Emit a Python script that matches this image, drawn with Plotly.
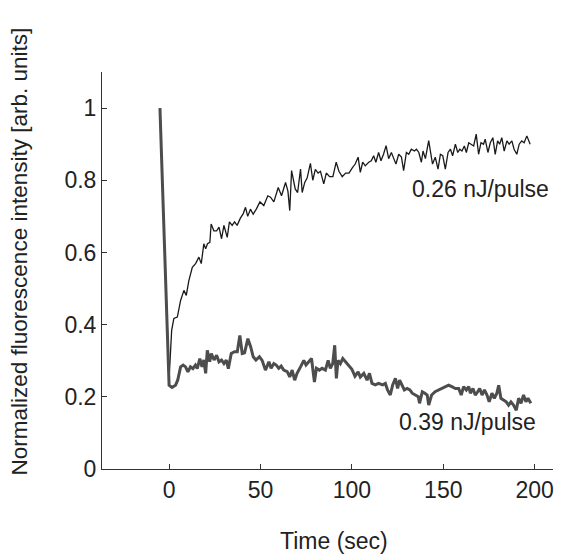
import plotly.graph_objects as go

# 0.26 nJ/pulse (thin black line): time (sec), normalized intensity
t_026 = [-5, 0, 1.4, 2.6, 4.5, 6.3, 8.1, 9.4, 10.8, 12.7, 14.5, 16.3, 17.6, 19, 20, 21, 22.3, 23, 24.5, 26,
         27.3, 28.7, 30, 31.8, 33, 34.5, 35.8, 37.2, 39, 40.5, 41.8, 43, 44.5, 46, 47.7, 49.7, 51.8, 54, 55.5, 57.3,
         59.7, 61.5, 63.7, 65, 66, 67, 69, 70.3, 71.9, 72.8, 74.2, 75.5, 77.3, 78.6, 80, 81.5, 82.8, 84.6, 86, 87.8,
         89.6, 91.4, 92.9, 94.7, 96.6, 98.4, 100.3, 101.8, 103.4, 104.6, 105.9, 107.3, 109.2, 110.6, 111.9, 113.1,
         114.6, 115.9, 117.3, 118.7, 120.1, 121.6, 122.9, 124.1, 125.6, 127.1, 128.3, 129.8, 131.1, 132.5, 134.2,
         135.3, 136.6, 138, 138.9, 140.2, 142, 142.9, 144.1, 145.6, 147.1, 148.4, 149.7, 151.1, 152.6, 153.9, 155.1,
         156.6, 157.9, 159, 160.2, 161.5, 162.6, 163.9, 165.3, 166.6, 168, 169.3, 170.6, 172, 172.9, 174.4, 175.7,
         177.1, 178.4, 179.7, 180.8, 182, 183.3, 184.8, 186, 187.5, 188.7, 190.2, 191.5, 192.9, 194.2, 195.7, 197.5]
v_026 = [1.0, 0.25, 0.384, 0.417, 0.421, 0.467, 0.495, 0.481, 0.522, 0.559, 0.569, 0.587, 0.569, 0.624, 0.61, 0.624,
         0.628, 0.679, 0.66, 0.66, 0.67, 0.638, 0.675, 0.642, 0.685, 0.675, 0.685, 0.675, 0.695, 0.707, 0.725, 0.70,
         0.72, 0.706, 0.72, 0.74, 0.73, 0.757, 0.753, 0.74, 0.78, 0.757, 0.794, 0.77, 0.716, 0.827, 0.776, 0.766,
         0.831, 0.766, 0.794, 0.806, 0.847, 0.8, 0.83, 0.82, 0.825, 0.79, 0.82, 0.81, 0.81, 0.85, 0.825, 0.81, 0.82,
         0.82, 0.835, 0.845, 0.864, 0.822, 0.85, 0.84, 0.85, 0.854, 0.868, 0.85, 0.877, 0.854, 0.872, 0.896, 0.86,
         0.877, 0.86, 0.845, 0.872, 0.864, 0.827, 0.877, 0.872, 0.886, 0.881, 0.886, 0.877, 0.85, 0.881, 0.86, 0.91,
         0.88, 0.845, 0.864, 0.831, 0.872, 0.868, 0.831, 0.877, 0.886, 0.868, 0.9, 0.877, 0.886, 0.881, 0.895, 0.877,
         0.904, 0.9, 0.895, 0.928, 0.872, 0.904, 0.9, 0.914, 0.877, 0.904, 0.918, 0.872, 0.909, 0.9, 0.918, 0.881,
         0.909, 0.9, 0.909, 0.886, 0.872, 0.9, 0.909, 0.904, 0.923, 0.9]

# 0.39 nJ/pulse (thick gray line)
t_039 = [-5, 0, 1.6, 3.5, 4.7, 6.3, 7.7, 9, 10.3, 11.7, 13, 14.4, 15.4, 16.8, 18, 19, 20, 20.9, 22.2, 23.1, 24.6,
         26, 27.3, 28.7, 30, 31.3, 32.4, 34, 35.8, 37.3, 38.7, 40, 41.3, 43.1, 44.6, 46, 47.5, 49.4, 50.9, 52.7,
         54.6, 55.8, 57.3, 58.6, 60, 61.3, 62.7, 64.6, 66, 67.3, 68.7, 70, 71.9, 73.7, 74.9, 76.4, 77.9, 79.5, 80.6,
         82.2, 83.7, 85.5, 87, 88.2, 89.5, 90.6, 91.5, 92.4, 93.7, 95, 96.4, 98.2, 100, 101.7, 103.4, 104.6, 106.5,
         108.3, 109.6, 111, 112.8, 114.6, 116.8, 118.3, 119.5, 121, 122.3, 123.8, 125, 126.1, 127.5, 128.7, 130.2,
         131.7, 133, 134.8, 136.3, 137, 138.5, 139.9, 141.2, 142, 143.6, 145.5, 147.4, 149.3, 151.1, 152.9, 154.7,
         156.6, 158.4, 159.8, 161.1, 162.6, 163.9, 164.8, 166.2, 167.5, 168.8, 169.9, 171.2, 172.5, 173.9, 175.1,
         176.6, 177.9, 179.3, 180.3, 181.5, 183, 184.4, 185.7, 187, 188.4, 189.9, 191.2, 192.5, 193.9, 195.2, 196.3,
         197.9]
v_039 = [1.0, 0.232, 0.226, 0.232, 0.246, 0.283, 0.288, 0.283, 0.269, 0.283, 0.278, 0.288, 0.278, 0.306, 0.283,
         0.302, 0.265, 0.329, 0.297, 0.32, 0.302, 0.315, 0.297, 0.302, 0.292, 0.302, 0.278, 0.32, 0.325, 0.325, 0.37,
         0.32, 0.322, 0.361, 0.339, 0.311, 0.302, 0.311, 0.301, 0.274, 0.297, 0.279, 0.292, 0.288, 0.279, 0.285,
         0.274, 0.27, 0.255, 0.274, 0.246, 0.265, 0.283, 0.301, 0.288, 0.297, 0.306, 0.241, 0.279, 0.274, 0.279,
         0.274, 0.301, 0.279, 0.292, 0.343, 0.251, 0.301, 0.292, 0.306, 0.297, 0.285, 0.276, 0.257, 0.269, 0.255,
         0.265, 0.246, 0.265, 0.237, 0.233, 0.237, 0.233, 0.237, 0.219, 0.205, 0.233, 0.251, 0.223, 0.246, 0.233,
         0.219, 0.223, 0.219, 0.21, 0.205, 0.2, 0.182, 0.214, 0.21, 0.205, 0.177, 0.205, 0.214, 0.219, 0.223, 0.228,
         0.232, 0.228, 0.223, 0.223, 0.205, 0.228, 0.219, 0.228, 0.21, 0.223, 0.205, 0.214, 0.223, 0.205, 0.219,
         0.205, 0.186, 0.21, 0.196, 0.21, 0.232, 0.196, 0.191, 0.186, 0.177, 0.186, 0.177, 0.163, 0.196, 0.182,
         0.205, 0.186, 0.196, 0.182]

series_labels = ["0.26 nJ/pulse", "0.39 nJ/pulse"]
x_title = "Time (sec)"
y_title = "Normalized fluorescence intensity [arb. units]"
x_ticks = [0, 50, 100, 150, 200]
y_ticks = [0, 0.2, 0.4, 0.6, 0.8, 1]
y_tick_text = ["0", "0.2", "0.4", "0.6", "0.8", "1"]

FONT = "Liberation Sans, Arial, sans-serif"
FS = 23
TXT = "#222"
fig = go.Figure()
fig.add_trace(go.Scatter(x=t_026, y=v_026, mode="lines", name=series_labels[0],
                         line=dict(color="#1a1a1a", width=1.3)))
fig.add_trace(go.Scatter(x=t_039, y=v_039, mode="lines", name=series_labels[1],
                         line=dict(color="#4d4d4d", width=3)))

fig.add_annotation(x=132, y=0.777, text=series_labels[0], showarrow=False,
                   xanchor="left", yanchor="middle", font=dict(size=FS, color=TXT))
fig.add_annotation(x=124.5, y=0.129, text=series_labels[1], showarrow=False,
                   xanchor="left", yanchor="middle", font=dict(size=FS, color=TXT))

# axis titles placed as in the reference (y title sits above the axis centre)
fig.add_annotation(xref="paper", yref="paper", x=0.514, y=-0.181, text=x_title,
                   showarrow=False, xanchor="center", yanchor="middle",
                   font=dict(size=FS, color=TXT))
fig.add_annotation(xref="paper", yref="paper", x=-0.184, y=0.548, text=y_title,
                   showarrow=False, textangle=-90, xanchor="center", yanchor="middle",
                   font=dict(size=22.5, color=TXT))

axis_common = dict(showline=True, linecolor="#333", linewidth=1, ticks="inside", ticklen=5,
                   tickcolor="#333", showgrid=False, zeroline=False, mirror=False,
                   automargin=False, tickfont=dict(size=FS, color=TXT))
fig.update_xaxes(range=[-36.7, 210], tickvals=x_ticks, **axis_common)
fig.update_yaxes(range=[0, 1.1], tickvals=y_ticks, ticktext=y_tick_text, **axis_common)
# the page body adds an 8px offset, so margins are reduced by 8 on the left/top
fig.update_layout(width=570, height=558, margin=dict(l=94, r=25, t=64, b=97),
                  paper_bgcolor="white", plot_bgcolor="white", showlegend=False,
                  font=dict(family=FONT, color=TXT))
fig.write_html("out.html")
